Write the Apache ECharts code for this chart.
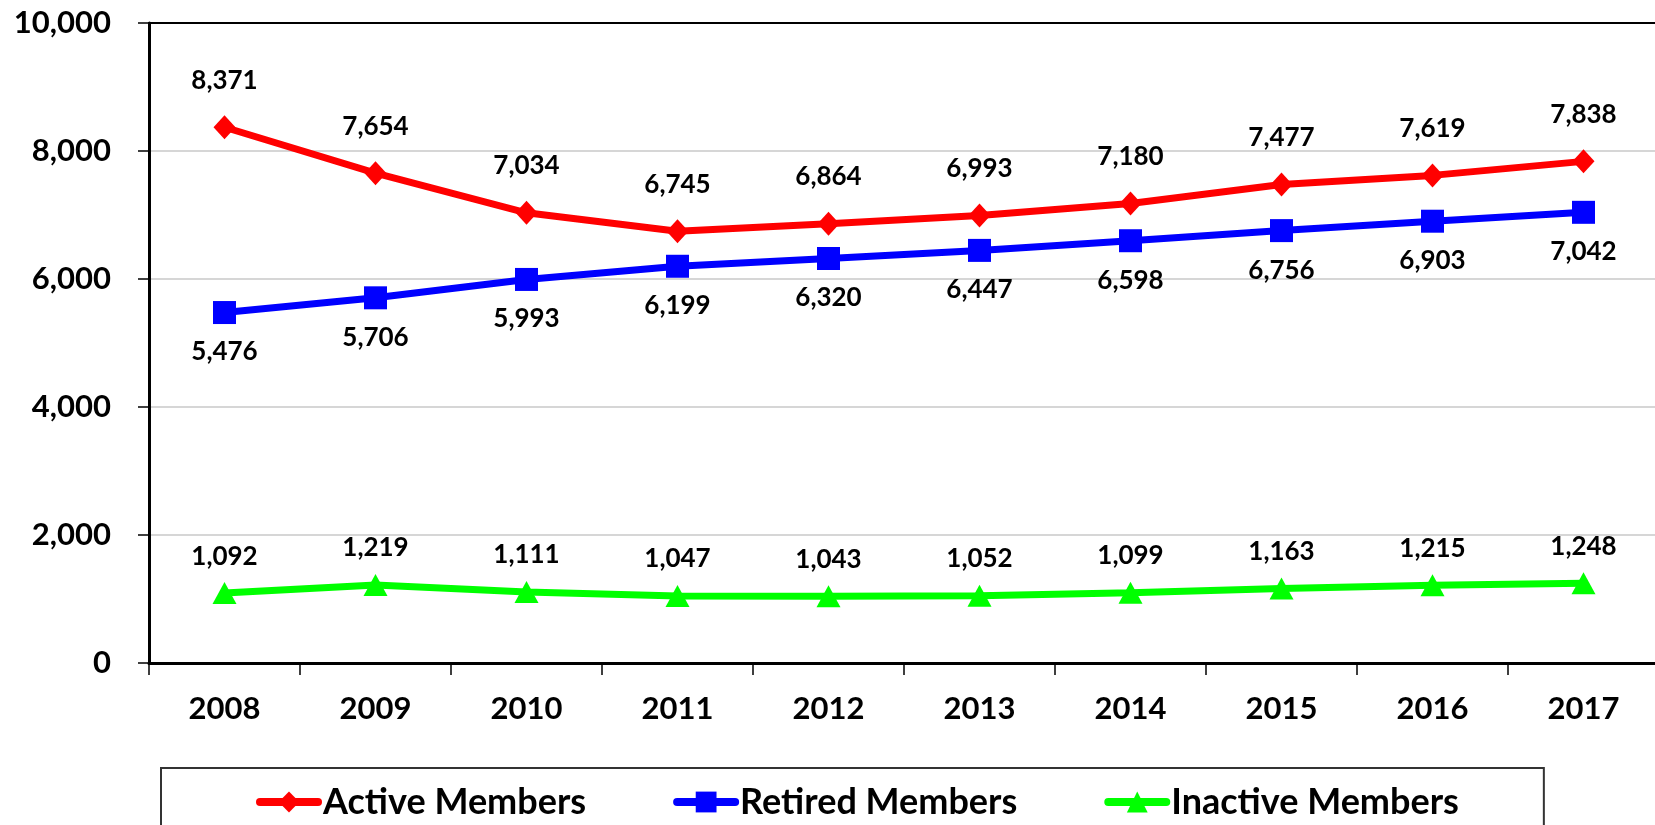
<!DOCTYPE html>
<html>
<head>
<meta charset="utf-8">
<script src="https://cdn.jsdelivr.net/npm/echarts@6/dist/echarts.min.js"></script>
<style>
  html, body { margin: 0; padding: 0; background: #fff; overflow: hidden; }
  #main { width: 1665px; height: 825px; }
</style>
</head>
<body>
<div id="main"></div>
<script>
// data
var years = ['2008', '2009', '2010', '2011', '2012', '2013', '2014', '2015', '2016', '2017'];
var activeMembers = [8371, 7654, 7034, 6745, 6864, 6993, 7180, 7477, 7619, 7838];
var retiredMembers = [5476, 5706, 5993, 6199, 6320, 6447, 6598, 6756, 6903, 7042];
var inactiveMembers = [1092, 1219, 1111, 1047, 1043, 1052, 1099, 1163, 1215, 1248];
var yTicks = [0, 2000, 4000, 6000, 8000, 10000];

var fontName = 'Lato';

function comma(v) {
  return String(v).replace(/\B(?=(\d{3})+(?!\d))/g, ',');
}

function makeSeries(name, values, color, symbol, size, pos, dist) {
  return {
    name: name,
    type: 'line',
    data: values,
    symbol: symbol,
    symbolSize: size,
    showAllSymbol: true,
    itemStyle: { color: color },
    lineStyle: { color: color, width: 7 },
    label: {
      show: true,
      position: pos,
      distance: dist,
      color: '#000',
      fontFamily: fontName,
      fontWeight: 'bold',
      fontSize: 26,
      formatter: function (p) { return comma(p.value); }
    },
    emphasis: { disabled: true },
    animation: false
  };
}

var chart = echarts.init(document.getElementById('main'), null, { renderer: 'canvas' });

// the plot area runs a little past the right edge of the window, as in the original
var option = {
  backgroundColor: '#fff',
  grid: {
    left: 149,
    right: 6,
    top: 23,
    bottom: 162,
    outerBoundsMode: 'none'
  },
  legend: {
    data: ['Active Members', 'Retired Members', 'Inactive Members'],
    left: 161,
    top: 768,
    padding: [16, 85, 40, 95],
    borderColor: '#333',
    borderWidth: 2,
    itemWidth: 58,
    itemHeight: 26,
    itemGap: 87,
    selectedMode: false,
    lineStyle: { width: 8, cap: 'round' },
    textStyle: {
      color: '#000',
      fontFamily: fontName,
      fontWeight: 'bold',
      fontSize: 36
    }
  },
  xAxis: [
    {
      type: 'category',
      data: years,
      boundaryGap: true,
      axisLine: { show: true, lineStyle: { color: '#000', width: 3 } },
      axisTick: { show: true, inside: false, length: 12, lineStyle: { color: '#000', width: 1.5 } },
      axisLabel: {
        color: '#000',
        fontFamily: fontName,
        fontWeight: 'bold',
        fontSize: 31,
        margin: 30
      },
      splitLine: { show: false }
    },
    {
      // top border of the plot area
      type: 'category',
      position: 'top',
      data: years,
      axisLine: { show: true, lineStyle: { color: '#000', width: 2 } },
      axisTick: { show: false },
      axisLabel: { show: false },
      splitLine: { show: false }
    }
  ],
  yAxis: {
    type: 'value',
    min: yTicks[0],
    max: yTicks[yTicks.length - 1],
    interval: yTicks[1] - yTicks[0],
    axisLine: { show: true, lineStyle: { color: '#000', width: 3 } },
    axisTick: { show: true, inside: false, length: 11, lineStyle: { color: '#000', width: 1.5 } },
    axisLabel: {
      color: '#000',
      fontFamily: fontName,
      fontWeight: 'bold',
      fontSize: 31,
      margin: 38,
      formatter: function (v) { return comma(v); }
    },
    splitLine: { show: true, lineStyle: { color: '#c8c8c8', width: 1.5 } }
  },
  series: [
    makeSeries('Active Members', activeMembers, '#ff0000', 'diamond', [22, 24], 'top', 22),
    makeSeries('Retired Members', retiredMembers, '#0000ff', 'rect', 23, 'bottom', 15),
    makeSeries('Inactive Members', inactiveMembers, '#00ff00', 'triangle', [24, 22], 'top', 13)
  ]
};

chart.setOption(option);
</script>
</body>
</html>
